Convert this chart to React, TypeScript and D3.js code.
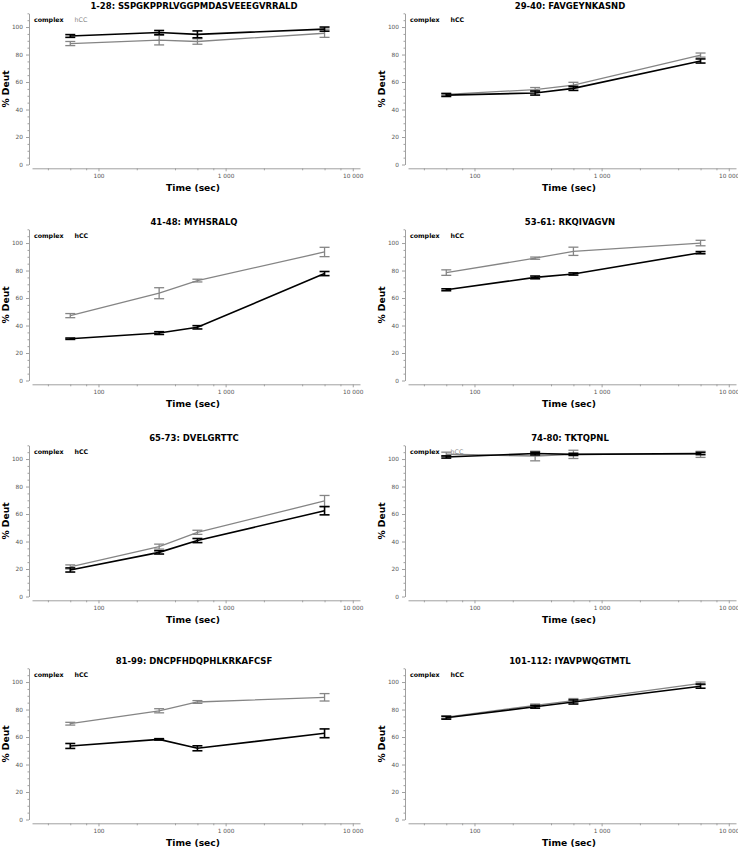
import * as d3 from "d3";
import { useEffect, useRef } from "react";

// sampling times (sec)
const times = [60, 300, 600, 6000];

const titles = [
    "1-28: SSPGKPPRLVGGPMDASVEEEGVRRALD",
    "29-40: FAVGEYNKASND",
    "41-48: MYHSRALQ",
    "53-61: RKQIVAGVN",
    "65-73: DVELGRTTC",
    "74-80: TKTQPNL",
    "81-99: DNCPFHDQPHLKRKAFCSF",
    "101-112: IYAVPWQGTMTL",
];

// % deuteration, complex
const complexMeans = [
    [93.5, 96, 94.7, 98.5],
    [50.5, 52, 55.4, 75.3],
    [30.4, 34.5, 38.7, 77.8],
    [66, 75, 77.5, 93],
    [19.3, 32.1, 40.7, 62.4],
    [101.5, 104, 103.4, 104],
    [53.5, 58.3, 51.8, 62.7],
    [74, 82, 85.5, 97],
];
const complexErrors = [
    [1, 1.5, 2.5, 1.5],
    [1, 1.5, 1.5, 1.5],
    [0.5, 1, 1.2, 1.5],
    [0.7, 1, 0.8, 0.8],
    [1.5, 1.2, 1.5, 3],
    [0.8, 1, 0.8, 0.8],
    [1.8, 0.5, 1.8, 3.2],
    [1, 1, 1.5, 1.5],
];

// % deuteration, hCC
const hccMeans = [
    [88, 90.5, 89.5, 95.5],
    [51, 54.5, 57.8, 79.6],
    [47.2, 63.5, 72.7, 93.5],
    [78.5, 89, 94, 100],
    [21.5, 36.3, 46.7, 69.5],
    [103.5, 102.2, 103.4, 103.4],
    [69.7, 79.1, 85.5, 88.9],
    [74.5, 83, 86.5, 99],
];
const hccErrors = [
    [1.5, 3.5, 2, 3],
    [1, 1.5, 2, 1.5],
    [1.5, 4, 1, 3.4],
    [2, 0.8, 3, 2],
    [1.5, 1.8, 1.5, 4],
    [1.5, 3.5, 3, 2.2],
    [1, 1.5, 1, 2.7],
    [1, 1, 1.5, 1],
];

// legend entry "hCC" shown dimmed on these panels
const hccLegendMuted = [true, false, false, false, false, true, false, false];

const yTicks = [0, 20, 40, 60, 80, 100];
const yMinorTicks = [5, 10, 15, 25, 30, 35, 45, 50, 55, 65, 70, 75, 85, 90, 95, 105, 110];
const xTicks = [100, 1000, 10000];
const xMinorTicks = [40, 60, 80, 200, 400, 600, 800, 2000, 4000, 6000, 8000];

const colX = [0, 376];
const rowY = [0, 216, 432, 655];

const FONT = "'DejaVu Sans', Verdana, sans-serif";
const AXIS_GRAY = "#a0a0a0";
const HCC_GRAY = "#858585";

function drawPanel(g: d3.Selection<SVGGElement, unknown, null, undefined>, i: number) {
    const x = d3.scaleLog().domain([30, 11400]).range([32, 360]);
    const y = d3.scaleLinear().domain([0, 110]).range([164.5, 13.3]);

    // title
    g.append("text")
        .attr("x", 194)
        .attr("y", 9)
        .attr("text-anchor", "middle")
        .style("font-family", FONT)
        .style("font-weight", "bold")
        .style("font-size", "8.5px")
        .text(titles[i]);

    // y axis
    const yAxis = g
        .append("g")
        .attr("transform", "translate(29,0)")
        .call(d3.axisLeft(y).tickValues(yTicks).tickSize(3).tickSizeOuter(0).tickPadding(3));
    yAxis.select(".domain").attr("stroke", AXIS_GRAY);
    yAxis.selectAll("line").attr("stroke", AXIS_GRAY);
    yAxis
        .selectAll("text")
        .style("font-family", FONT)
        .style("font-size", "5.8px")
        .attr("fill", "#555");

    const yMinor = g
        .append("g")
        .attr("transform", "translate(29,0)")
        .call(d3.axisLeft(y).tickValues(yMinorTicks).tickSize(1.5).tickFormat(() => ""));
    yMinor.select(".domain").remove();
    yMinor.selectAll("line").attr("stroke", AXIS_GRAY);

    // x axis
    const fmt = d3.format(",");
    const xAxis = g
        .append("g")
        .attr("transform", "translate(0,168.3)")
        .call(
            d3
                .axisBottom(x)
                .tickValues(xTicks)
                .tickSize(3)
                .tickSizeOuter(0)
                .tickPadding(3)
                .tickFormat((d) => fmt(d as number).replace(/,/g, " "))
        );
    xAxis.select(".domain").attr("stroke", AXIS_GRAY);
    xAxis.selectAll("line").attr("stroke", AXIS_GRAY);
    xAxis
        .selectAll("text")
        .style("font-family", FONT)
        .style("font-size", "5.8px")
        .attr("fill", "#555");

    const xMinor = g
        .append("g")
        .attr("transform", "translate(0,168.3)")
        .call(d3.axisBottom(x).tickValues(xMinorTicks).tickSize(2).tickFormat(() => ""));
    xMinor.select(".domain").remove();
    xMinor.selectAll("line").attr("stroke", AXIS_GRAY);

    // axis labels
    g.append("text")
        .attr("transform", "translate(8.5,89) rotate(-90)")
        .attr("text-anchor", "middle")
        .style("font-family", FONT)
        .style("font-weight", "bold")
        .style("font-size", "9.2px")
        .text("% Deut");

    g.append("text")
        .attr("x", 193)
        .attr("y", 191)
        .attr("text-anchor", "middle")
        .style("font-family", FONT)
        .style("font-weight", "bold")
        .style("font-size", "9.2px")
        .text("Time (sec)");

    // legend
    g.append("text")
        .attr("x", 34)
        .attr("y", 22)
        .style("font-family", FONT)
        .style("font-weight", "bold")
        .style("font-size", "6.3px")
        .text("complex");
    const muted = hccLegendMuted[i];
    g.append("text")
        .attr("x", 74.5)
        .attr("y", 22)
        .style("font-family", FONT)
        .style("font-weight", muted ? "normal" : "bold")
        .style("font-size", "6.3px")
        .attr("fill", muted ? HCC_GRAY : "#000")
        .text("hCC");

    const series = [
        { means: hccMeans[i], errors: hccErrors[i], color: HCC_GRAY, width: 1.3 },
        { means: complexMeans[i], errors: complexErrors[i], color: "#000", width: 1.6 },
    ];

    const line = d3
        .line<number>()
        .x((_, j) => x(times[j]))
        .y((d) => y(d));

    series.forEach((s) => {
        g.append("path")
            .datum(s.means)
            .attr("d", line)
            .attr("fill", "none")
            .attr("stroke", s.color)
            .attr("stroke-width", s.width);

        const bars = g
            .append("g")
            .selectAll("g")
            .data(s.means)
            .join("g")
            .attr("stroke", s.color)
            .attr("stroke-width", s.width);

        bars.append("line")
            .attr("x1", (_, j) => x(times[j]))
            .attr("x2", (_, j) => x(times[j]))
            .attr("y1", (d, j) => y(d - s.errors[j]))
            .attr("y2", (d, j) => y(d + s.errors[j]));
        bars.append("line")
            .attr("x1", (_, j) => x(times[j]) - 5)
            .attr("x2", (_, j) => x(times[j]) + 5)
            .attr("y1", (d, j) => y(d - s.errors[j]))
            .attr("y2", (d, j) => y(d - s.errors[j]));
        bars.append("line")
            .attr("x1", (_, j) => x(times[j]) - 5)
            .attr("x2", (_, j) => x(times[j]) + 5)
            .attr("y1", (d, j) => y(d + s.errors[j]))
            .attr("y2", (d, j) => y(d + s.errors[j]));
    });
}

export default function App() {
    const ref = useRef<SVGSVGElement | null>(null);

    useEffect(() => {
        if (!ref.current) return;
        const svg = d3.select(ref.current);
        svg.selectAll("*").remove();
        titles.forEach((_, i) => {
            const g = svg
                .append("g")
                .attr("transform", `translate(${colX[i % 2]},${rowY[Math.floor(i / 2)]})`);
            drawPanel(g, i);
        });
    }, []);

    return (
        <svg
            ref={ref}
            width={738}
            height={849}
            style={{ position: "absolute", left: 0, top: 0, background: "#fff" }}
        />
    );
}
